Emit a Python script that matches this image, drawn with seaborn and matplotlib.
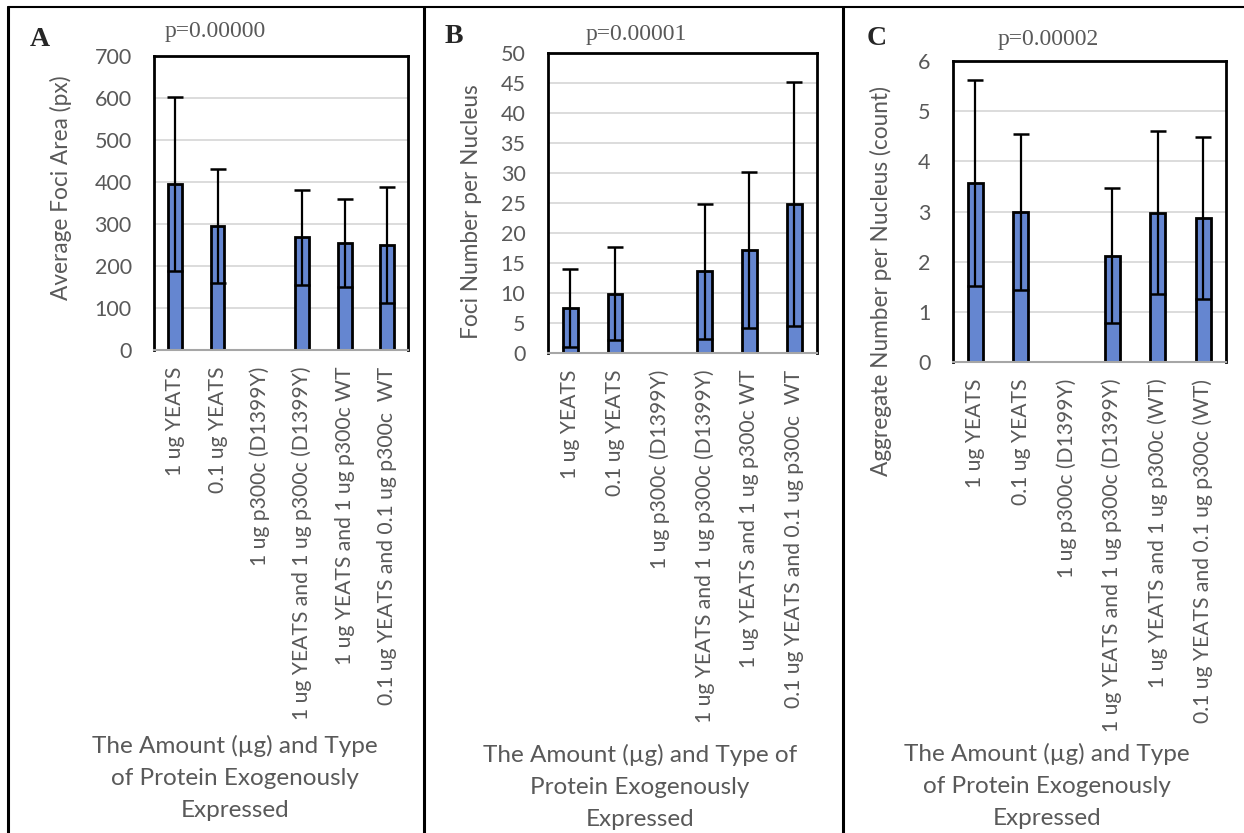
import numpy as np
import pandas as pd
import matplotlib
matplotlib.use('Agg')
import matplotlib.pyplot as plt
from matplotlib.lines import Line2D
import seaborn as sns

sns.set_style('white')
plt.rcParams['font.family'] = ['Lato', 'DejaVu Sans']

# data
labels_ab = ['1 ug YEATS', '0.1 ug YEATS', '1 ug p300c (D1399Y)',
             '1 ug YEATS and 1 ug p300c (D1399Y)',
             '1 ug YEATS and 1 ug p300c WT',
             '0.1 ug YEATS and 0.1 ug p300c  WT']
labels_c = ['1 ug YEATS', '0.1 ug YEATS', '1 ug p300c (D1399Y)',
            '1 ug YEATS and 1 ug p300c (D1399Y)',
            '1 ug YEATS and 1 ug p300c (WT)',
            '0.1 ug YEATS and 0.1 ug p300c (WT)']

foci_area = [395, 295, 0, 268, 255, 250]
foci_area_sd = [207, 136, np.nan, 114, 104, 137]

foci_number = [7.5, 9.9, 0, 13.6, 17.1, 24.8]
foci_number_sd = [6.5, 7.8, np.nan, 11.2, 13.0, 20.3]

aggregates = [3.57, 2.99, 0, 2.12, 2.98, 2.87]
aggregates_sd = [2.06, 1.55, np.nan, 1.34, 1.63, 1.62]

p_values = ['p=0.00000', 'p=0.00001', 'p=0.00002']
panel_letters = ['A', 'B', 'C']

xlabel_ac = 'The Amount (\u00b5g) and Type\nof Protein Exogenously\nExpressed'
xlabel_b = 'The Amount (\u00b5g) and Type of\nProtein Exogenously\nExpressed'

BAR_COLOR = '#6586D0'
TEXT_GRAY = '#595959'


def draw_panel(fig, rect, labels, means, sds, ymax, ystep, ylabel, xlabel,
               xlab_pos, ylab_pos):
    ax = fig.add_axes(rect)
    df = pd.DataFrame({'group': labels, 'value': means})
    sns.barplot(data=df, x='group', y='value', color=BAR_COLOR, saturation=1,
                width=0.33, edgecolor='black', linewidth=2, errorbar=None, ax=ax)
    ax.errorbar(np.arange(len(means)), means, yerr=sds, fmt='none',
                ecolor='black', elinewidth=1.6, capsize=6, capthick=1.8, zorder=5)
    ax.set_ylim(0, ymax)
    ax.set_xlim(-0.5, len(means) - 0.5)
    ax.set_yticks(np.arange(0, ymax + ystep / 2, ystep))
    ax.yaxis.grid(True, color='#D9D9D9', linewidth=1.3)
    ax.set_axisbelow(True)
    for side in ['left', 'top', 'right']:
        ax.spines[side].set_color('black')
        ax.spines[side].set_linewidth(2)
    ax.spines['bottom'].set_color('#A6A6A6')
    ax.spines['bottom'].set_linewidth(1.5)
    ax.tick_params(axis='y', length=0, pad=16, labelsize=15.5, labelcolor=TEXT_GRAY)
    ax.tick_params(axis='x', length=0, pad=12, labelsize=15.2, labelcolor=TEXT_GRAY)
    ax.set_xticks(range(len(labels)))
    ax.set_xticklabels(labels, rotation=90, va='top', ha='center')
    ax.set_ylabel(ylabel, fontsize=16.3, color=TEXT_GRAY)
    ax.yaxis.set_label_coords(*ylab_pos)
    ax.set_xlabel(xlabel, fontsize=17.5, color=TEXT_GRAY, linespacing=1.65)
    ax.xaxis.set_label_coords(*xlab_pos)
    return ax


fig = plt.figure(figsize=(12.44, 8.33), dpi=100)

draw_panel(fig, [0.1238, 0.5798, 0.2042, 0.3530], labels_ab, foci_area,
           foci_area_sd, 700, 100, 'Average Foci Area (px)', xlabel_ac,
           (0.32, -1.31), (-0.323, 0.551))
draw_panel(fig, [0.4403, 0.5762, 0.2162, 0.3605], labels_ab, foci_number,
           foci_number_sd, 50, 5, 'Foci Number per Nucleus', xlabel_b,
           (0.343, -1.30), (-0.244, 0.47))
draw_panel(fig, [0.7658, 0.5654, 0.2197, 0.3613], labels_c, aggregates,
           aggregates_sd, 6, 1, 'Aggregate Number per Nucleus (count)', xlabel_ac,
           (0.345, -1.266), (-0.222, 0.269))

# panel letters and p-values
for letter, (lx, ly) in zip(panel_letters, [(0.0241, 0.952), (0.3577, 0.9556), (0.697, 0.954)]):
    fig.text(lx, ly, letter, fontsize=20, fontweight='bold', va='center', ha='left',
             family=['Liberation Serif', 'DejaVu Serif'])
for ptxt, (px, py) in zip(p_values, [(0.1326, 0.9616), (0.4708, 0.958), (0.8023, 0.952)]):
    fig.text(px, py, ptxt, fontsize=17, color=TEXT_GRAY, va='center', ha='left',
             family=['Liberation Serif', 'DejaVu Serif'])

# outer frame around the three panels
fig.add_artist(Line2D([0.0064, 1.0], [0.9916, 0.9916], color='black', lw=1.5))
for xf in [0.0064, 0.3408, 0.6777]:
    fig.add_artist(Line2D([xf, xf], [0.0, 0.9916], color='black', lw=2.2))

fig.savefig('out.png', dpi=100)
